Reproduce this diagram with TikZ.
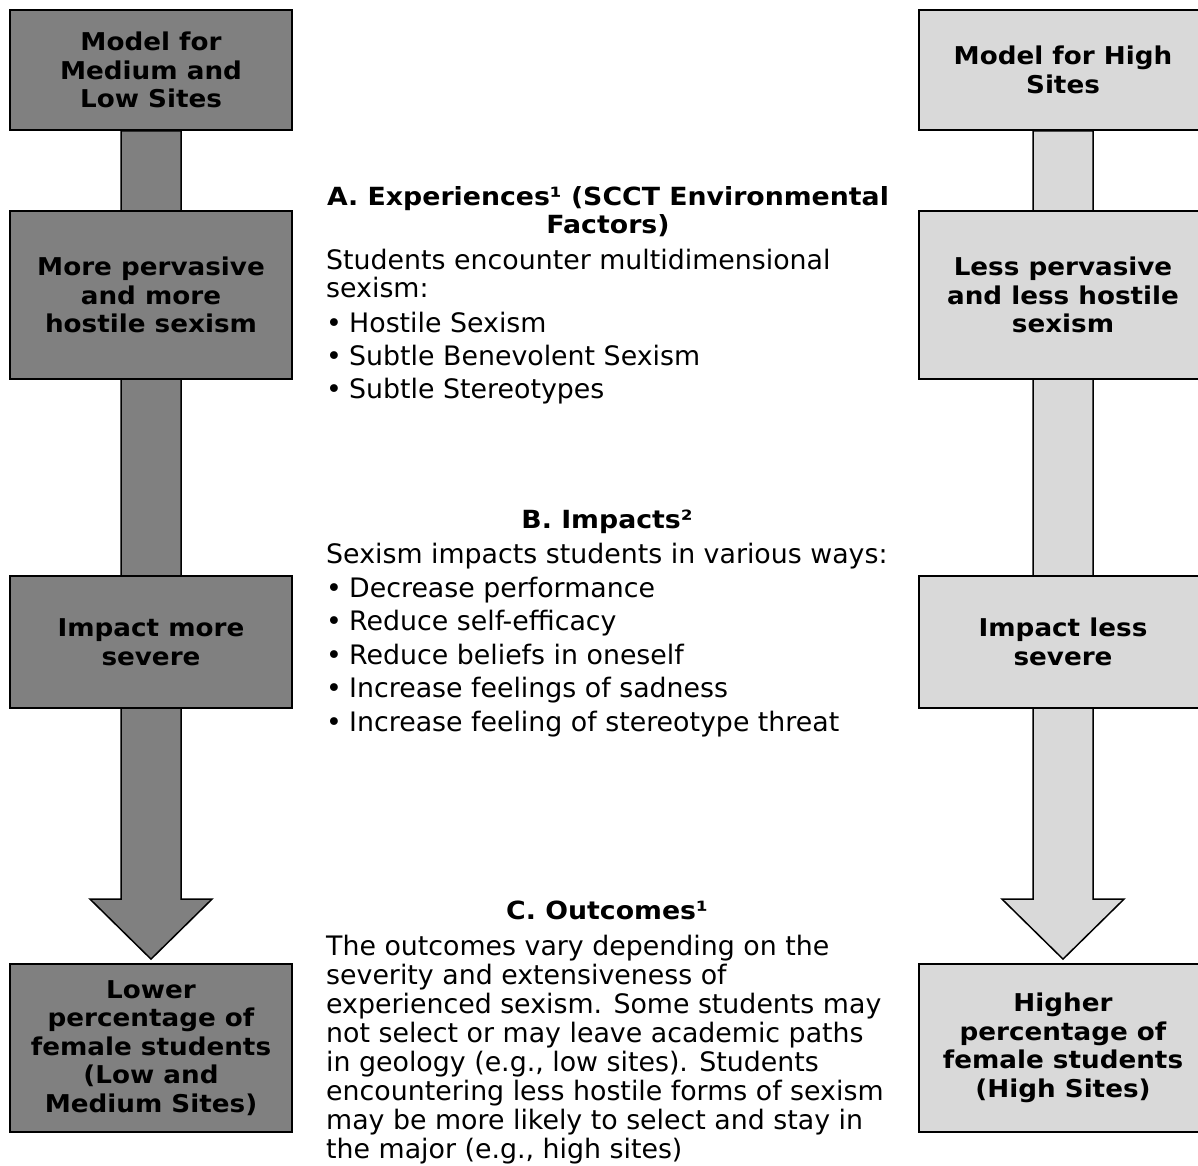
\documentclass[tikz,border=0pt]{standalone}
\usepackage{fontspec}
\setmainfont{DejaVu Sans}
\newfontfamily\widefont{DejaVu Sans}[FakeStretch=1.07]
\usetikzlibrary{calc,backgrounds}
\definecolor{darkgrey}{RGB}{128,128,128}
\definecolor{lightgrey}{RGB}{217,217,217}
\tikzset{
  modelbox/.style={draw=black, line width=1.8pt, inner sep=0pt, align=center,
    font=\widefont\fontsize{24.5}{28.5}\selectfont\bfseries},
  darkbox/.style={modelbox, fill=darkgrey, minimum width=282pt},
  lightbox/.style={modelbox, fill=lightgrey, minimum width=288pt},
  blockarrow/.style={draw=black, line width=1.5pt, line join=miter},
  heading/.style={anchor=base, inner sep=0pt, font=\widefont\fontsize{25}{28.5}\selectfont\bfseries},
  bodyline/.style={anchor=base west, inner sep=0pt, font=\fontsize{26.8}{29}\selectfont},
}
\newcommand{\bulitem}{\makebox[23pt][l]{•}}
\begin{document}
\begin{tikzpicture}[x=1pt,y=-1pt]
\useasboundingbox (0,0) rectangle (1198,1165);
% left column
\node[darkbox, minimum height=120pt] (l1) at (151,70) {Model for\\Medium and\\Low Sites};
\node[darkbox, minimum height=168pt] (l2) at (151,295) {More pervasive\\and more\\hostile sexism};
\node[darkbox, minimum height=132pt] (l3) at (151,642) {Impact more\\severe};
\node[darkbox, minimum height=168pt] (l4) at (151,1048) {Lower\\percentage of\\female students\\(Low and\\Medium Sites)};
% right column
\node[lightbox, minimum height=120pt] (r1) at (1063,70) {Model for High\\Sites};
\node[lightbox, minimum height=168pt] (r2) at (1063,295) {Less pervasive\\and less hostile\\sexism};
\node[lightbox, minimum height=132pt] (r3) at (1063,642) {Impact less\\severe};
\node[lightbox, minimum height=168pt] (r4) at (1063,1048) {Higher\\percentage of\\female students\\(High Sites)};
% block arrows
\begin{scope}[on background layer]
\draw[blockarrow, fill=darkgrey] ($(l1.south)+(-30,0)$) -- ($(l4.north)+(-30,-64)$) -- ($(l4.north)+(-61,-64)$) -- ($(l4.north)+(0,-4)$) -- ($(l4.north)+(61,-64)$) -- ($(l4.north)+(30,-64)$) -- ($(l1.south)+(30,0)$) -- cycle;
\draw[blockarrow, fill=lightgrey] ($(r1.south)+(-30,0)$) -- ($(r4.north)+(-30,-64)$) -- ($(r4.north)+(-61,-64)$) -- ($(r4.north)+(0,-4)$) -- ($(r4.north)+(61,-64)$) -- ($(r4.north)+(30,-64)$) -- ($(r1.south)+(30,0)$) -- cycle;
\end{scope}
% section A
\node[heading] (ha1) at (608,205) {A. Experiences¹ (SCCT Environmental};
\node[heading] (ha2) at (608,233) {Factors)};
\node[bodyline] (a1) at (326,269) {Students encounter multidimensional};
\node[bodyline] (a2) at (326,297) {sexism:};
\node[bodyline] (a3) at (326,332) {\bulitem Hostile Sexism};
\node[bodyline] (a4) at (326,365) {\bulitem Subtle Benevolent Sexism};
\node[bodyline] (a5) at (326,398) {\bulitem Subtle Stereotypes};
% section B
\node[heading] (hb) at (607,528) {B. Impacts²};
\node[bodyline] (b1) at (326,563) {Sexism impacts students in various ways:};
\node[bodyline] (b2) at (326,597) {\bulitem Decrease performance};
\node[bodyline] (b3) at (326,630.5) {\bulitem Reduce self-efficacy};
\node[bodyline] (b4) at (326,664) {\bulitem Reduce beliefs in oneself};
\node[bodyline] (b5) at (326,697.5) {\bulitem Increase feelings of sadness};
\node[bodyline] (b6) at (326,731) {\bulitem Increase feeling of stereotype threat};
% section C
\node[heading] (hc) at (607,919) {C. Outcomes¹};
\node[bodyline] (c1) at (326,955) {The outcomes vary depending on the};
\node[bodyline] (c2) at (326,984) {severity and extensiveness of};
\node[bodyline] (c3) at (326,1013) {experienced sexism. Some students may};
\node[bodyline] (c4) at (326,1042) {not select or may leave academic paths};
\node[bodyline] (c5) at (326,1071) {in geology (e.g., low sites). Students};
\node[bodyline] (c6) at (326,1100) {encountering less hostile forms of sexism};
\node[bodyline] (c7) at (326,1129) {may be more likely to select and stay in};
\node[bodyline] (c8) at (326,1158) {the major (e.g., high sites)};
\end{tikzpicture}
\end{document}
